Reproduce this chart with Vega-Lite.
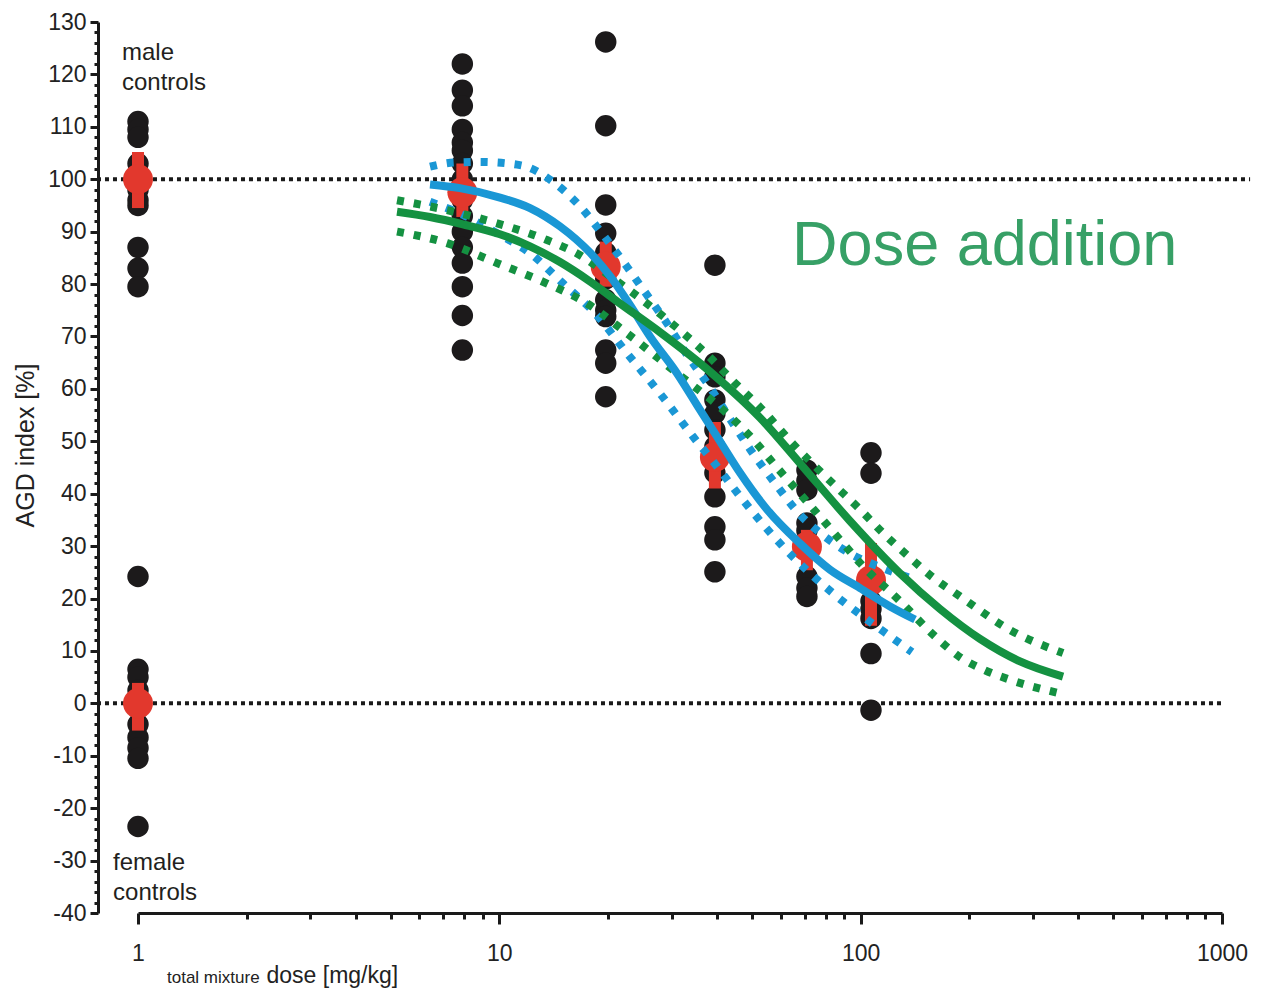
{
  "$schema": "https://vega.github.io/schema/vega-lite/v6.json",
  "width": 1084,
  "height": 891,
  "autosize": {"type": "none"},
  "padding": {"left": 138, "top": 22, "right": 41, "bottom": 78},
  "background": "white",
  "config": {
    "view": {"stroke": null},
    "font": "Liberation Sans",
    "axis": {"labelFont": "Liberation Sans", "titleFont": "Liberation Sans"}
  },
  "datasets": {
    "refs": [
      {"dose": 0.77, "dose2": 1196, "agd": 100},
      {"dose": 0.77, "dose2": 1006, "agd": 0}
    ],
    "pts": [
      {"dose": 1, "agd": 111}, {"dose": 1, "agd": 109.5}, {"dose": 1, "agd": 108}, {"dose": 1, "agd": 103}, {"dose": 1, "agd": 100.5}, {"dose": 1, "agd": 98}, {"dose": 1, "agd": 96}, {"dose": 1, "agd": 95}, {"dose": 1, "agd": 87}, {"dose": 1, "agd": 83}, {"dose": 1, "agd": 79.5},
      {"dose": 1, "agd": 24.2}, {"dose": 1, "agd": 6.5}, {"dose": 1, "agd": 5}, {"dose": 1, "agd": 2.5}, {"dose": 1, "agd": -1}, {"dose": 1, "agd": -4}, {"dose": 1, "agd": -6.5}, {"dose": 1, "agd": -8.5}, {"dose": 1, "agd": -10.5}, {"dose": 1, "agd": -23.5},
      {"dose": 7.9, "agd": 122}, {"dose": 7.9, "agd": 117}, {"dose": 7.9, "agd": 114}, {"dose": 7.9, "agd": 109.5}, {"dose": 7.9, "agd": 107}, {"dose": 7.9, "agd": 105.5}, {"dose": 7.9, "agd": 103}, {"dose": 7.9, "agd": 100}, {"dose": 7.9, "agd": 96}, {"dose": 7.9, "agd": 93}, {"dose": 7.9, "agd": 90}, {"dose": 7.9, "agd": 87}, {"dose": 7.9, "agd": 84}, {"dose": 7.9, "agd": 79.5}, {"dose": 7.9, "agd": 74}, {"dose": 7.9, "agd": 67.4},
      {"dose": 19.7, "agd": 126.2}, {"dose": 19.7, "agd": 110.2}, {"dose": 19.7, "agd": 95.1}, {"dose": 19.7, "agd": 89.7}, {"dose": 19.7, "agd": 86}, {"dose": 19.7, "agd": 84}, {"dose": 19.7, "agd": 81}, {"dose": 19.7, "agd": 77}, {"dose": 19.7, "agd": 75}, {"dose": 19.7, "agd": 73.8}, {"dose": 19.7, "agd": 67.4}, {"dose": 19.7, "agd": 64.9}, {"dose": 19.7, "agd": 58.5},
      {"dose": 39.5, "agd": 83.6}, {"dose": 39.5, "agd": 64.9}, {"dose": 39.5, "agd": 62.3}, {"dose": 39.5, "agd": 57.9}, {"dose": 39.5, "agd": 55.3}, {"dose": 39.5, "agd": 52.2}, {"dose": 39.5, "agd": 49}, {"dose": 39.5, "agd": 44}, {"dose": 39.5, "agd": 39.4}, {"dose": 39.5, "agd": 33.7}, {"dose": 39.5, "agd": 31.2}, {"dose": 39.5, "agd": 25.1},
      {"dose": 71, "agd": 44.5}, {"dose": 71, "agd": 42.5}, {"dose": 71, "agd": 40.7}, {"dose": 71, "agd": 34.4}, {"dose": 71, "agd": 33}, {"dose": 71, "agd": 24.2}, {"dose": 71, "agd": 22}, {"dose": 71, "agd": 20.4},
      {"dose": 106.8, "agd": 47.8}, {"dose": 106.8, "agd": 43.9}, {"dose": 106.8, "agd": 19.5}, {"dose": 106.8, "agd": 18}, {"dose": 106.8, "agd": 16.2}, {"dose": 106.8, "agd": 9.5}, {"dose": 106.8, "agd": -1.3}
    ],
    "means": [
      {"dose": 1, "agd": 100, "lo": 94.5, "hi": 105.2},
      {"dose": 1, "agd": 0, "lo": -5.2, "hi": 3.9},
      {"dose": 7.9, "agd": 97.5, "lo": 92.8, "hi": 103},
      {"dose": 19.7, "agd": 83.3, "lo": 79.5, "hi": 88.1},
      {"dose": 39.5, "agd": 47, "lo": 41, "hi": 53.7},
      {"dose": 71, "agd": 29.9, "lo": 25.4, "hi": 33.1},
      {"dose": 106.8, "agd": 23.5, "lo": 14.8, "hi": 30.6}
    ],
    "curves": [
      {"model": "observed", "bound": "fit", "dose": 6.43, "agd": 99},
      {"model": "observed", "bound": "fit", "dose": 7.78, "agd": 98.3},
      {"model": "observed", "bound": "fit", "dose": 10.04, "agd": 96.5},
      {"model": "observed", "bound": "fit", "dose": 12.16, "agd": 94.5},
      {"model": "observed", "bound": "fit", "dose": 14.72, "agd": 91},
      {"model": "observed", "bound": "fit", "dose": 17.82, "agd": 86},
      {"model": "observed", "bound": "fit", "dose": 20.25, "agd": 81.5},
      {"model": "observed", "bound": "fit", "dose": 22.99, "agd": 76},
      {"model": "observed", "bound": "fit", "dose": 26.12, "agd": 70},
      {"model": "observed", "bound": "fit", "dose": 31.01, "agd": 63},
      {"model": "observed", "bound": "fit", "dose": 35.93, "agd": 56},
      {"model": "observed", "bound": "fit", "dose": 40.81, "agd": 50},
      {"model": "observed", "bound": "fit", "dose": 46.36, "agd": 44},
      {"model": "observed", "bound": "fit", "dose": 55.06, "agd": 37},
      {"model": "observed", "bound": "fit", "dose": 67.95, "agd": 30.5},
      {"model": "observed", "bound": "fit", "dose": 82.28, "agd": 25.5},
      {"model": "observed", "bound": "fit", "dose": 99.58, "agd": 22},
      {"model": "observed", "bound": "fit", "dose": 120.6, "agd": 18.5},
      {"model": "observed", "bound": "fit", "dose": 141.4, "agd": 16},
      {"model": "observed", "bound": "upper", "dose": 6.43, "agd": 102.4},
      {"model": "observed", "bound": "upper", "dose": 7.54, "agd": 103.2},
      {"model": "observed", "bound": "upper", "dose": 8.84, "agd": 103.3},
      {"model": "observed", "bound": "upper", "dose": 11.4, "agd": 102.7},
      {"model": "observed", "bound": "upper", "dose": 14.08, "agd": 99.5},
      {"model": "observed", "bound": "upper", "dose": 16.73, "agd": 94.8},
      {"model": "observed", "bound": "upper", "dose": 19.36, "agd": 89.4},
      {"model": "observed", "bound": "upper", "dose": 22.56, "agd": 83.3},
      {"model": "observed", "bound": "upper", "dose": 24.98, "agd": 79},
      {"model": "observed", "bound": "upper", "dose": 29.11, "agd": 72.5},
      {"model": "observed", "bound": "upper", "dose": 33.07, "agd": 66.5},
      {"model": "observed", "bound": "upper", "dose": 38.28, "agd": 60.3},
      {"model": "observed", "bound": "upper", "dose": 44.33, "agd": 53.4},
      {"model": "observed", "bound": "upper", "dose": 49.4, "agd": 48.5},
      {"model": "observed", "bound": "upper", "dose": 57.93, "agd": 42},
      {"model": "observed", "bound": "upper", "dose": 67.95, "agd": 36},
      {"model": "observed", "bound": "upper", "dose": 79.67, "agd": 31.8},
      {"model": "observed", "bound": "upper", "dose": 93.43, "agd": 28.6},
      {"model": "observed", "bound": "upper", "dose": 113.1, "agd": 26},
      {"model": "observed", "bound": "upper", "dose": 138.7, "agd": 23.8},
      {"model": "observed", "bound": "lower", "dose": 6.43, "agd": 95.7},
      {"model": "observed", "bound": "lower", "dose": 7.93, "agd": 93.2},
      {"model": "observed", "bound": "lower", "dose": 9.85, "agd": 89.7},
      {"model": "observed", "bound": "lower", "dose": 12.16, "agd": 85.9},
      {"model": "observed", "bound": "lower", "dose": 15.01, "agd": 80.1},
      {"model": "observed", "bound": "lower", "dose": 18.64, "agd": 74},
      {"model": "observed", "bound": "lower", "dose": 22.56, "agd": 66.8},
      {"model": "observed", "bound": "lower", "dose": 27.85, "agd": 59.1},
      {"model": "observed", "bound": "lower", "dose": 34.36, "agd": 50.9},
      {"model": "observed", "bound": "lower", "dose": 40.04, "agd": 45.2},
      {"model": "observed", "bound": "lower", "dose": 44.33, "agd": 41.2},
      {"model": "observed", "bound": "lower", "dose": 60.97, "agd": 29.9},
      {"model": "observed", "bound": "lower", "dose": 83.83, "agd": 21},
      {"model": "observed", "bound": "lower", "dose": 104.1, "agd": 16},
      {"model": "observed", "bound": "lower", "dose": 120.6, "agd": 12.8},
      {"model": "observed", "bound": "lower", "dose": 138.7, "agd": 9.8},
      {"model": "dose addition", "bound": "fit", "dose": 5.21, "agd": 93.8},
      {"model": "dose addition", "bound": "fit", "dose": 6.43, "agd": 92.8},
      {"model": "dose addition", "bound": "fit", "dose": 7.93, "agd": 91.4},
      {"model": "dose addition", "bound": "fit", "dose": 10.04, "agd": 89.5},
      {"model": "dose addition", "bound": "fit", "dose": 12.16, "agd": 87.2},
      {"model": "dose addition", "bound": "fit", "dose": 14.72, "agd": 84.2},
      {"model": "dose addition", "bound": "fit", "dose": 17.82, "agd": 80.5},
      {"model": "dose addition", "bound": "fit", "dose": 21.58, "agd": 76.3},
      {"model": "dose addition", "bound": "fit", "dose": 27.85, "agd": 70.8},
      {"model": "dose addition", "bound": "fit", "dose": 38.28, "agd": 63.3},
      {"model": "dose addition", "bound": "fit", "dose": 52.65, "agd": 54.5},
      {"model": "dose addition", "bound": "fit", "dose": 67.95, "agd": 45.8},
      {"model": "dose addition", "bound": "fit", "dose": 93.43, "agd": 34.8},
      {"model": "dose addition", "bound": "fit", "dose": 128.5, "agd": 24.8},
      {"model": "dose addition", "bound": "fit", "dose": 165.8, "agd": 18},
      {"model": "dose addition", "bound": "fit", "dose": 213.9, "agd": 12.3},
      {"model": "dose addition", "bound": "fit", "dose": 276.1, "agd": 8},
      {"model": "dose addition", "bound": "fit", "dose": 363.1, "agd": 5.1},
      {"model": "dose addition", "bound": "upper", "dose": 5.21, "agd": 96},
      {"model": "dose addition", "bound": "upper", "dose": 7.17, "agd": 94.1},
      {"model": "dose addition", "bound": "upper", "dose": 9.85, "agd": 91.6},
      {"model": "dose addition", "bound": "upper", "dose": 13.55, "agd": 88.4},
      {"model": "dose addition", "bound": "upper", "dose": 16.73, "agd": 85.5},
      {"model": "dose addition", "bound": "upper", "dose": 20.25, "agd": 81.5},
      {"model": "dose addition", "bound": "upper", "dose": 27.85, "agd": 74.3},
      {"model": "dose addition", "bound": "upper", "dose": 38.28, "agd": 66},
      {"model": "dose addition", "bound": "upper", "dose": 44.33, "agd": 61.5},
      {"model": "dose addition", "bound": "upper", "dose": 52.65, "agd": 56.5},
      {"model": "dose addition", "bound": "upper", "dose": 64.97, "agd": 49.5},
      {"model": "dose addition", "bound": "upper", "dose": 83.83, "agd": 41.9},
      {"model": "dose addition", "bound": "upper", "dose": 99.58, "agd": 37},
      {"model": "dose addition", "bound": "upper", "dose": 115.3, "agd": 32.5},
      {"model": "dose addition", "bound": "upper", "dose": 136.9, "agd": 27.8},
      {"model": "dose addition", "bound": "upper", "dose": 158.6, "agd": 24},
      {"model": "dose addition", "bound": "upper", "dose": 188.4, "agd": 20.4},
      {"model": "dose addition", "bound": "upper", "dose": 259, "agd": 14},
      {"model": "dose addition", "bound": "upper", "dose": 363.1, "agd": 9.6},
      {"model": "dose addition", "bound": "lower", "dose": 5.21, "agd": 90},
      {"model": "dose addition", "bound": "lower", "dose": 7.17, "agd": 87.8},
      {"model": "dose addition", "bound": "lower", "dose": 9.85, "agd": 84},
      {"model": "dose addition", "bound": "lower", "dose": 13.55, "agd": 80.1},
      {"model": "dose addition", "bound": "lower", "dose": 17.48, "agd": 76.3},
      {"model": "dose addition", "bound": "lower", "dose": 22.56, "agd": 70.6},
      {"model": "dose addition", "bound": "lower", "dose": 31.01, "agd": 63},
      {"model": "dose addition", "bound": "lower", "dose": 42.67, "agd": 55.3},
      {"model": "dose addition", "bound": "lower", "dose": 49.4, "agd": 51},
      {"model": "dose addition", "bound": "lower", "dose": 58.68, "agd": 45},
      {"model": "dose addition", "bound": "lower", "dose": 67.95, "agd": 40},
      {"model": "dose addition", "bound": "lower", "dose": 93.43, "agd": 29},
      {"model": "dose addition", "bound": "lower", "dose": 99.58, "agd": 26.8},
      {"model": "dose addition", "bound": "lower", "dose": 128.5, "agd": 19.5},
      {"model": "dose addition", "bound": "lower", "dose": 160.6, "agd": 12.8},
      {"model": "dose addition", "bound": "lower", "dose": 188.4, "agd": 8.8},
      {"model": "dose addition", "bound": "lower", "dose": 220.9, "agd": 6.3},
      {"model": "dose addition", "bound": "lower", "dose": 259, "agd": 4.5},
      {"model": "dose addition", "bound": "lower", "dose": 356.2, "agd": 1.9}
    ],
    "notes": [
      {"label": "male controls", "dose": 0.903, "agd": 122.75},
      {"label": "female controls", "dose": 0.853, "agd": -31.8}
    ],
    "heading": [
      {"label": "Dose addition", "dose": 64.6, "agd": 83.6}
    ],
    "xnote": [
      {"label": "total mixture", "dose": 1.203, "agd": -53.4}
    ]
  },
  "encoding": {
    "x": {
      "field": "dose",
      "type": "quantitative",
      "scale": {"type": "log", "domain": [1, 1000], "nice": false},
      "axis": {
        "values": [1, 2, 3, 4, 5, 6, 7, 8, 9, 10, 20, 30, 40, 50, 60, 70, 80, 90, 100, 200, 300, 400, 500, 600, 700, 800, 900, 1000],
        "labelExpr": "(datum.value === 1 || datum.value === 10 || datum.value === 100 || datum.value === 1000) ? '' + datum.value : ''",
        "tickSize": {"condition": {"test": "datum.value === 1 || datum.value === 10 || datum.value === 100 || datum.value === 1000", "value": 11}, "value": 6},
        "tickWidth": 3,
        "tickColor": "#1a1a1a",
        "domainWidth": 3,
        "domainColor": "#1a1a1a",
        "grid": false,
        "labelFontSize": 23,
        "labelColor": "#222222",
        "labelPadding": 18,
        "labelOverlap": false,
        "labelFlush": false,
        "labelBound": false,
        "title": "dose [mg/kg]",
        "titleFontSize": 23,
        "titleFontWeight": "normal",
        "titleColor": "#222222",
        "titleX": 128,
        "titleY": 69,
        "titleAlign": "left",
        "titleBaseline": "alphabetic"
      }
    },
    "y": {
      "field": "agd",
      "type": "quantitative",
      "title": "AGD index [%]",
      "scale": {"domain": [-40, 130], "nice": false, "zero": false},
      "axis": {
        "offset": 40,
        "values": [-40, -38, -36, -34, -32, -30, -28, -26, -24, -22, -20, -18, -16, -14, -12, -10, -8, -6, -4, -2, 0, 2, 4, 6, 8, 10, 12, 14, 16, 18, 20, 22, 24, 26, 28, 30, 32, 34, 36, 38, 40, 42, 44, 46, 48, 50, 52, 54, 56, 58, 60, 62, 64, 66, 68, 70, 72, 74, 76, 78, 80, 82, 84, 86, 88, 90, 92, 94, 96, 98, 100, 102, 104, 106, 108, 110, 112, 114, 116, 118, 120, 122, 124, 126, 128, 130],
        "labelExpr": "datum.value % 10 === 0 ? '' + datum.value : ''",
        "tickSize": {"condition": {"test": "datum.value % 10 === 0", "value": 8}, "value": 4},
        "tickWidth": 3,
        "tickColor": "#1a1a1a",
        "domainWidth": 3,
        "domainColor": "#1a1a1a",
        "grid": false,
        "labelFontSize": 23,
        "labelColor": "#222222",
        "labelPadding": 4,
        "labelOverlap": false,
        "labelFlush": false,
        "labelBound": false,
        "title": "AGD index [%]",
        "titleFontSize": 25,
        "titleFontWeight": "normal",
        "titleColor": "#222222",
        "titleAngle": -90,
        "titleX": -73,
        "titleY": 423,
        "titleAlign": "center",
        "titleBaseline": "middle"
      }
    }
  },
  "layer": [
    {
      "data": {"name": "refs"},
      "mark": {"type": "rule", "strokeWidth": 4, "strokeDash": [4, 4], "color": "#1a1a1a", "clip": false},
      "encoding": {"x2": {"field": "dose2"}}
    },
    {
      "data": {"name": "pts"},
      "mark": {"type": "circle", "size": 460, "color": "#1c1a1b", "opacity": 1, "clip": false}
    },
    {
      "data": {"name": "means"},
      "mark": {"type": "rule", "strokeWidth": 12, "color": "#e2382d", "strokeCap": "butt", "clip": false},
      "encoding": {
        "y": {"field": "lo", "type": "quantitative", "title": "AGD index [%]"},
        "y2": {"field": "hi"}
      }
    },
    {
      "data": {"name": "means"},
      "mark": {"type": "circle", "size": 900, "color": "#e2382d", "opacity": 1, "clip": false}
    },
    {
      "data": {"name": "curves"},
      "transform": [{"filter": "datum.bound !== 'fit'"}],
      "mark": {"type": "line", "strokeWidth": 8, "strokeDash": [7, 10], "strokeCap": "butt", "interpolate": "monotone", "clip": false},
      "encoding": {
        "color": {"field": "model", "type": "nominal", "scale": {"domain": ["observed", "dose addition"], "range": ["#1a97d5", "#149141"]}, "legend": null},
        "detail": {"field": "bound", "type": "nominal"}
      }
    },
    {
      "data": {"name": "curves"},
      "transform": [{"filter": "datum.bound === 'fit'"}],
      "mark": {"type": "line", "strokeWidth": 8, "strokeCap": "butt", "interpolate": "monotone", "clip": false},
      "encoding": {
        "color": {"field": "model", "type": "nominal", "scale": {"domain": ["observed", "dose addition"], "range": ["#1a97d5", "#149141"]}, "legend": null}
      }
    },
    {
      "data": {"name": "notes"},
      "mark": {"type": "text", "fontSize": 24, "align": "left", "baseline": "alphabetic", "lineBreak": " ", "lineHeight": 30, "color": "#231f20", "clip": false},
      "encoding": {"text": {"field": "label"}}
    },
    {
      "data": {"name": "heading"},
      "mark": {"type": "text", "fontSize": 63, "align": "left", "baseline": "alphabetic", "color": "#37a066", "clip": false},
      "encoding": {"text": {"field": "label"}}
    },
    {
      "data": {"name": "xnote"},
      "mark": {"type": "text", "fontSize": 17, "align": "left", "baseline": "alphabetic", "color": "#222222", "clip": false},
      "encoding": {"text": {"field": "label"}}
    }
  ]
}
